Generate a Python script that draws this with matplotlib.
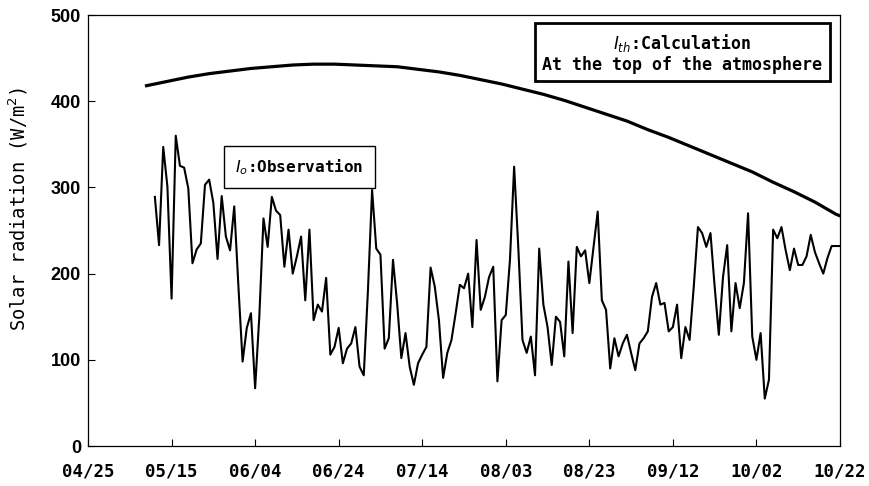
import matplotlib
matplotlib.use('Agg')
import matplotlib.pyplot as plt
import numpy as np

# Days counted from 04/25 (day 0) to 10/22 (day 180)
tick_days = [0, 20, 40, 60, 80, 100, 120, 140, 160, 180]
tick_labels = ['04/25', '05/15', '06/04', '06/24', '07/14',
               '08/03', '08/23', '09/12', '10/02', '10/22']

# Observed daily solar radiation, first value on 05/11 (day 16)
obs_start = 16
obs_values = [
    289, 233, 347, 301, 171, 360, 325, 323, 299, 212,
    228, 235, 303, 309, 282, 217, 290, 243, 227, 278,
    185, 98, 137, 154, 67, 150, 264, 231, 289, 273,
    268, 208, 251, 200, 220, 243, 169, 251, 146, 164,
    156, 195, 106, 115, 137, 96, 113, 119, 138, 92,
    82, 180, 297, 229, 222, 113, 125, 216, 165, 102,
    131, 92, 71, 96, 106, 115, 207, 185, 146, 79,
    108, 123, 154, 187, 183, 200, 138, 239, 158, 173,
    196, 208, 75, 146, 152, 216, 324, 230, 123, 108,
    127, 82, 229, 164, 138, 94, 150, 144, 104, 214,
    131, 231, 220, 227, 189, 231, 272, 169, 158, 90,
    125, 104, 119, 129, 108, 88, 119, 125, 133, 173,
    189, 164, 166, 133, 138, 164, 102, 138, 123, 185,
    254, 247, 231, 247, 185, 129, 196, 233, 133, 189,
    160, 189, 270, 127, 100, 131, 55, 77, 251, 241,
    254, 227, 204, 229, 210, 210, 220, 245, 225, 212,
    200, 218, 232, 232, 232,
]

# Calculated radiation at the top of the atmosphere
calc_days = [14, 19, 24, 29, 34, 39, 44, 49, 54, 59, 64, 69, 74, 79, 84,
             89, 94, 99, 104, 109, 114, 119, 124, 129, 134, 139, 144,
             149, 154, 159, 164, 169, 174, 179, 180]
calc_values = [418, 423, 428, 432, 435, 438, 440, 442, 443, 443, 442, 441,
               440, 437, 434, 430, 425, 420, 414, 408, 401, 393, 385, 377,
               367, 358, 348, 338, 328, 318, 306, 295, 283, 269, 267]

obs_days = np.arange(obs_start, obs_start + len(obs_values))

fig = plt.figure(figsize=(8.69, 4.86), dpi=100)
ax = fig.add_axes([0.1013, 0.0823, 0.8653, 0.8868])

ax.plot(obs_days, obs_values, color='black', lw=1.5)
ax.plot(calc_days, calc_values, color='black', lw=2.3)

ax.set_xlim(0, 180)
ax.set_ylim(0, 500)
ax.set_xticks(tick_days)
ax.set_xticklabels(tick_labels, family='DejaVu Sans Mono',
                   fontweight='bold', fontsize=12.5)
ax.set_yticks([0, 100, 200, 300, 400, 500])
ax.set_yticklabels(['0', '100', '200', '300', '400', '500'],
                   family='Liberation Sans', fontweight='bold', fontsize=13)
ax.tick_params(axis='x', direction='in', length=5, pad=12)
ax.tick_params(axis='y', direction='in', length=5, pad=5)
for s in ax.spines.values():
    s.set_linewidth(0.9)

ax.set_ylabel(r'Solar radiation (W/m$^2$)', family='DejaVu Sans Mono',
              fontsize=13.5)
ax.yaxis.set_label_coords(-0.077, 0.55)

# Labels in boxes
ax.text(0.281, 0.647, r'$I_o$:Observation', transform=ax.transAxes,
        ha='center', va='center', family='DejaVu Sans Mono',
        fontweight='bold', fontsize=11.5,
        bbox=dict(boxstyle='square,pad=0.7', fc='white', ec='black', lw=1.0))
ax.text(0.790, 0.912, '$I_{th}$:Calculation\nAt the top of the atmosphere',
        transform=ax.transAxes, ha='center', va='center',
        family='DejaVu Sans Mono', fontweight='bold', fontsize=12,
        linespacing=1.15,
        bbox=dict(boxstyle='square,pad=0.45', fc='white', ec='black', lw=2.0))

fig.savefig('out.png', dpi=100)
